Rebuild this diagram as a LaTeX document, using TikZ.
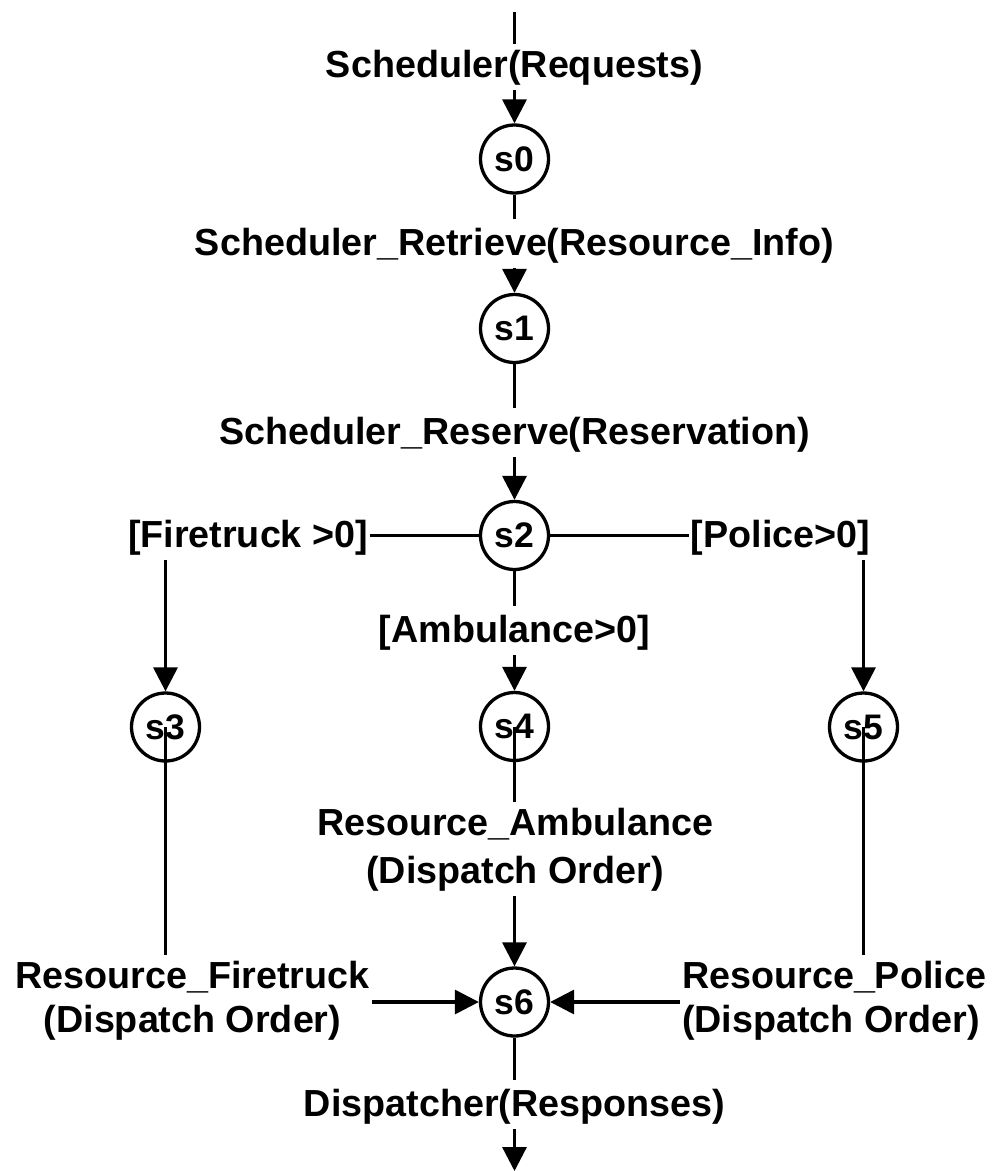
\documentclass[tikz,border=0pt]{standalone}
\usepackage{fontspec}
\setmainfont{Liberation Sans}
\usetikzlibrary{arrows.meta}
\begin{document}
\begin{tikzpicture}[x=1pt,y=-1pt,
  state/.style={circle,draw,line width=3.3pt,minimum size=68pt,inner sep=0pt,font=\fontsize{35.5}{40}\selectfont\bfseries},
  lab/.style={font=\fontsize{37.7}{44}\selectfont\bfseries,inner xsep=2pt,inner ysep=5pt},
  conn/.style={line width=3.3pt},
  arr/.style={conn,-{Triangle[width=24pt,length=24pt]}},
  tolab/.style={shorten >=3pt}]
\fill[white] (0,0) rectangle (998,1171);
\useasboundingbox (0,0) rectangle (998,1171);
\coordinate (top) at (514.5,12);
\node[lab,anchor=base] (l0) at (514.5,77) {Scheduler(Requests)};
\node[state] (s0) at (514.5,159) {s0};
\node[lab,anchor=base] (l1) at (514.5,255) {Scheduler\_Retrieve(Resource\_Info)};
\node[state] (s1) at (514.5,328.5) {s1};
\node[lab,anchor=base] (l2) at (514.5,444) {Scheduler\_Reserve(Reservation)};
\node[state] (s2) at (514.5,535.5) {s2};
\node[lab,anchor=base] (lf) at (248,547) {[Firetruck >0]};
\node[lab,anchor=base] (lp) at (780.5,547) {[Police>0]};
\node[lab,anchor=base] (la) at (514.5,642) {[Ambulance>0]};
\node[state] (s3) at (165.5,727) {s3};
\node[state] (s4) at (514.5,726.5) {s4};
\node[state] (s5) at (863.5,727) {s5};
\node[lab,anchor=base,align=center] (ra) at (515,883) {Resource\_Ambulance\\[4pt](Dispatch Order)};
\node[lab,anchor=base,align=center] (rf) at (192.5,1032) {Resource\_Firetruck\\(Dispatch Order)};
\node[lab,anchor=base west,align=left] (rp) at (680,1032) {Resource\_Police\\(Dispatch Order)};
\node[state] (s6) at (514.5,1002) {s6};
\node[lab,anchor=base] (ld) at (514.5,1116) {Dispatcher(Responses)};
\coordinate (bot) at (514.5,1171);
\draw[conn] (top) -- (l0);
\draw[arr] (l0) -- (s0);
\draw[conn,tolab] (s0) -- (l1);
\draw[arr] (l1) -- (s1);
\draw[conn,tolab] (s1) -- (l2);
\draw[arr] (l2) -- (s2);
\draw[conn] (s2.west) -- (s2.west -| lf.east);
\draw[conn] (s2.east) -- (s2.east -| lp.west);
\draw[conn,tolab] (s2) -- (la);
\draw[arr] (la) -- (s4);
\draw[arr] (lf.south -| s3) -- (s3);
\draw[arr] (lp.south -| s5) -- (s5);
\draw[conn] (s3.center) -- (s3 |- rf.north);
\draw[conn] (s4.center) -- (s4 |- ra.north);
\draw[arr] (s6 |- ra.south) -- (s6);
\draw[conn] (s5.center) -- (s5 |- rp.north);
\draw[arr] (rf.east |- s6) -- (s6);
\draw[arr] (rp.west |- s6) -- (s6);
\draw[conn,tolab] (s6) -- (ld);
\draw[arr] (ld) -- (bot);
\end{tikzpicture}
\end{document}
